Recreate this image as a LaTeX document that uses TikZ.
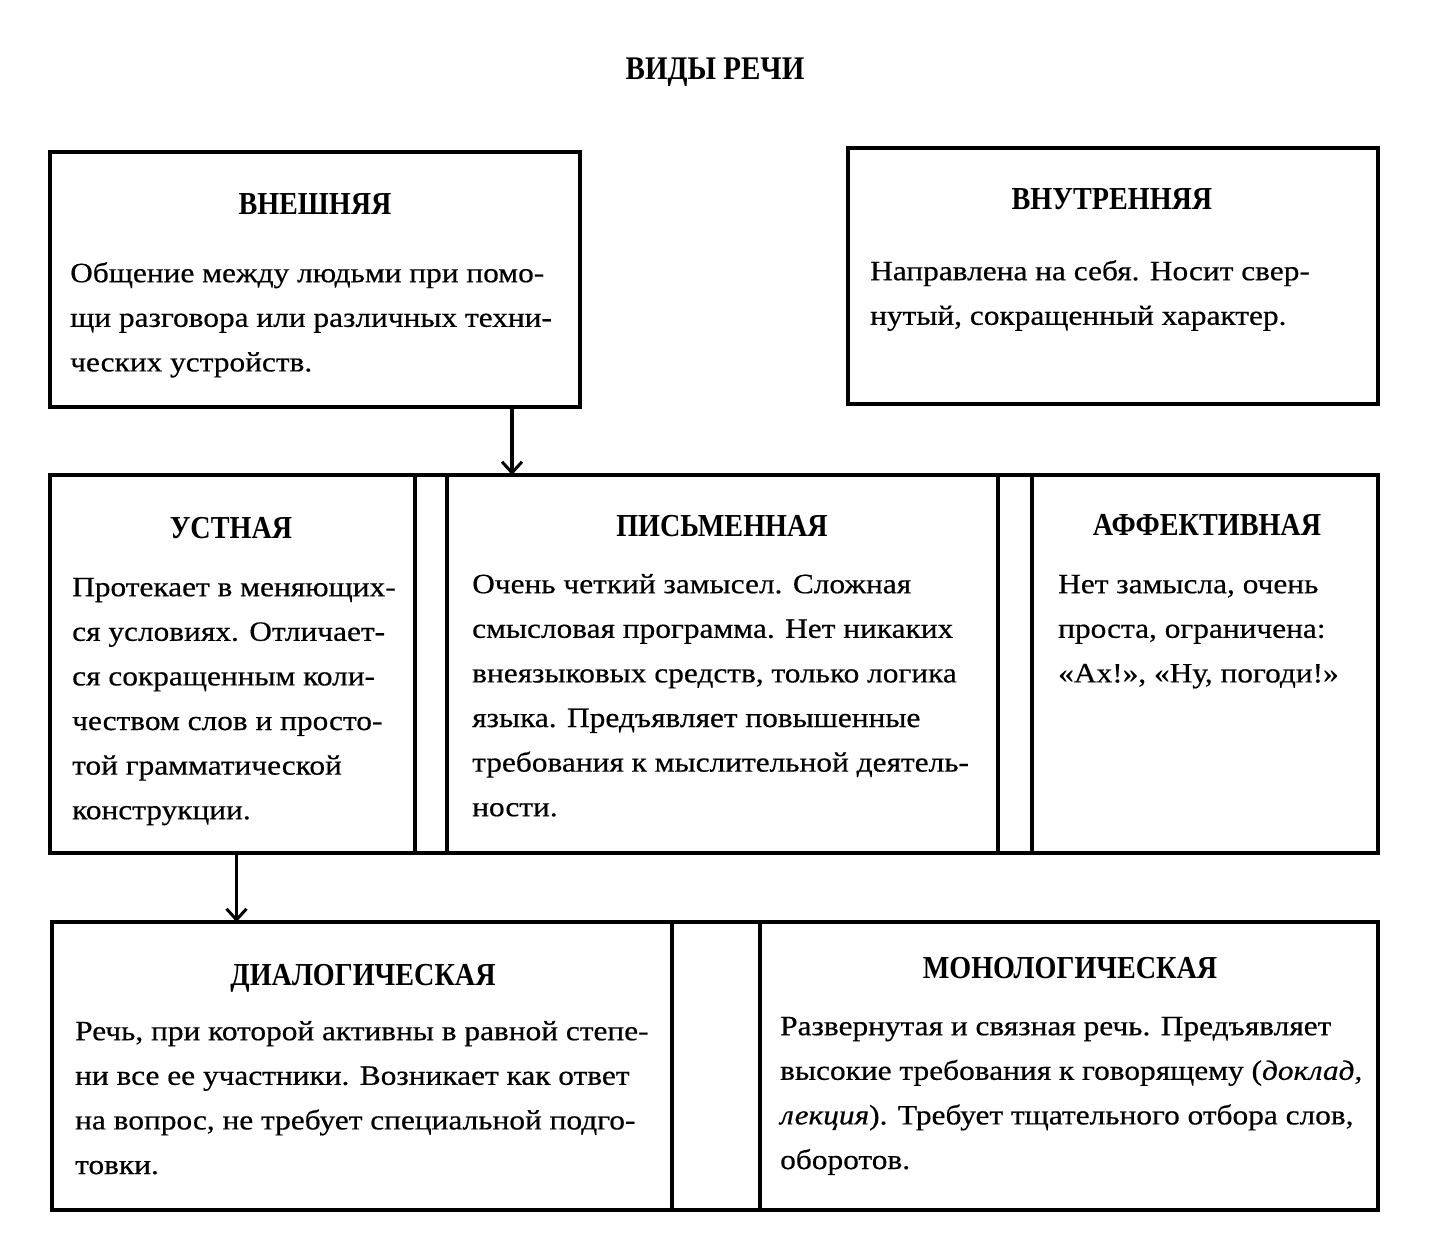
\documentclass[tikz,border=0pt]{standalone}
\usepackage{fontspec}
\setmainfont{Liberation Serif}
\newfontfamily\hdrfont[FakeStretch=0.88]{Liberation Serif}
\newfontfamily\bodyfont[FakeStretch=1.12,FakeBold=0.5]{Liberation Serif}
\usetikzlibrary{arrows.meta}
\newcommand\fs{\rule{0pt}{30pt}}
\begin{document}
\begin{tikzpicture}[x=1pt,y=-1pt,
  box/.style={draw=black,line width=3.5pt,inner sep=0pt,outer sep=0pt},
  hdr/.style={anchor=base,inner sep=0pt,font={\hdrfont\bfseries\fontsize{32}{38}\selectfont}},
  body/.style={anchor=north west,inner sep=0pt,align=left,font={\bodyfont\fontsize{28}{44.6}\selectfont}},
  arr/.style={line width=3.5pt,-{Straight Barb[length=11pt,width=20pt,line width=3pt]}}]
\useasboundingbox (0,0) rectangle (1429,1256);
\fill[white] (0,0) rectangle (1429,1256);
% title
\node[hdr,font={\hdrfont\bfseries\fontsize{33}{38}\selectfont}] (title) at (715,79) {ВИДЫ РЕЧИ};
% top row
\node[box,minimum width=530pt,minimum height=255pt] (vnesh) at (315,279.5) {};
\node[box,minimum width=530pt,minimum height=256pt] (vnutr) at (1113,276) {};
% middle row
\node[box,minimum width=365pt,minimum height=378pt] (ustn) at (232.5,664) {};
\node[box,minimum width=32pt,minimum height=378pt] (gap1) at (431,664) {};
\node[box,minimum width=551pt,minimum height=378pt] (pism) at (722.5,664) {};
\node[box,minimum width=34pt,minimum height=378pt] (gap2) at (1015,664) {};
\node[box,minimum width=346pt,minimum height=378pt] (affekt) at (1205,664) {};
% bottom row
\node[box,minimum width=620pt,minimum height=288pt] (dial) at (362,1066) {};
\node[box,minimum width=88pt,minimum height=288pt] (gap3) at (716,1066) {};
\node[box,minimum width=618pt,minimum height=288pt] (monol) at (1069,1066) {};
% arrows
\draw[arr] ([xshift=-68pt]vnesh.south east) -- ([xshift=-68pt]vnesh.south east |- pism.north);
\draw[arr] ([xshift=4pt]ustn.south) -- ([xshift=4pt]ustn.south |- dial.north);
% headers
\node[hdr] (h1) at (315,214) {ВНЕШНЯЯ};
\node[hdr] (h2) at (1112,209) {ВНУТРЕННЯЯ};
\node[hdr] (h3) at (231,538) {УСТНАЯ};
\node[hdr] (h4) at (722,536) {ПИСЬМЕННАЯ};
\node[hdr] (h5) at (1207,535) {АФФЕКТИВНАЯ};
\node[hdr] (h6) at (363,985) {ДИАЛОГИЧЕСКАЯ};
\node[hdr] (h7) at (1070,978) {МОНОЛОГИЧЕСКАЯ};
% bodies
\node[body] (t1) at (70,252) {\fs Общение между людьми при помо-\\щи разговора или различных техни-\\ческих устройств.};
\node[body] (t2) at (870,250) {\fs Направлена на себя. Носит свер-\\нутый, сокращенный характер.};
\node[body] (t3) at (72,566) {\fs Протекает в меняющих-\\ся условиях. Отличает-\\ся сокращенным коли-\\чеством слов и просто-\\той грамматической\\конструкции.};
\node[body] (t4) at (472,563) {\fs Очень четкий замысел. Сложная\\смысловая программа. Нет никаких\\внеязыковых средств, только логика\\языка. Предъявляет повышенные\\требования к мыслительной деятель-\\ности.};
\node[body] (t5) at (1058,563) {\fs Нет замысла, очень\\проста, ограничена:\\«Ах!», «Ну, погоди!»};
\node[body] (t6) at (75,1010) {\fs Речь, при которой активны в равной степе-\\ни все ее участники. Возникает как ответ\\на вопрос, не требует специальной подго-\\товки.};
\node[body] (t7) at (780,1005) {\fs Развернутая и связная речь. Предъявляет\\высокие требования к говорящему (\textit{доклад,}\\\textit{лекция}). Требует тщательного отбора слов,\\оборотов.};
\end{tikzpicture}
\end{document}
